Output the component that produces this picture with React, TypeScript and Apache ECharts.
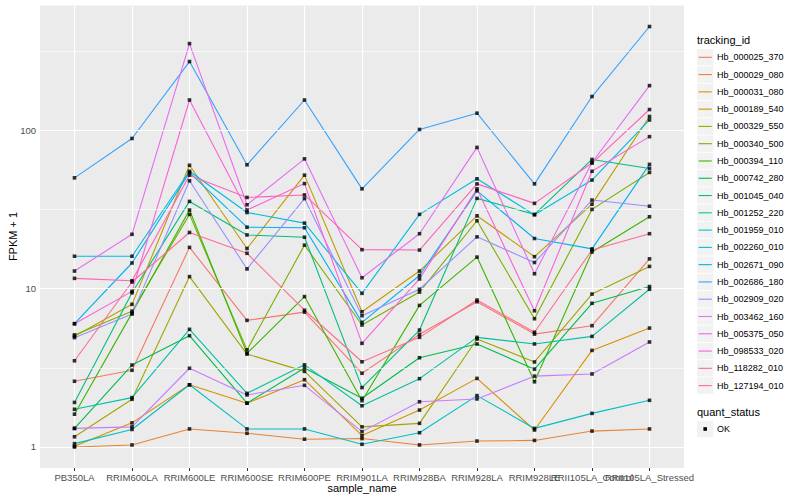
import React, { useEffect, useRef } from "react";
import * as echarts from "echarts";

const FONT = '"Liberation Sans", Arial, Helvetica, sans-serif';

const categories = [
  "PB350LA",
  "RRIM600LA",
  "RRIM600LE",
  "RRIM600SE",
  "RRIM600PE",
  "RRIM901LA",
  "RRIM928BA",
  "RRIM928LA",
  "RRIM928LE",
  "RRII105LA_Control",
  "RRII105LA_Stressed",
];

const trackingIds = [
  "Hb_000025_370",
  "Hb_000029_080",
  "Hb_000031_080",
  "Hb_000189_540",
  "Hb_000329_550",
  "Hb_000340_500",
  "Hb_000394_110",
  "Hb_000742_280",
  "Hb_001045_040",
  "Hb_001252_220",
  "Hb_001959_010",
  "Hb_002260_010",
  "Hb_002671_090",
  "Hb_002686_180",
  "Hb_002909_020",
  "Hb_003462_160",
  "Hb_005375_050",
  "Hb_098533_020",
  "Hb_118282_010",
  "Hb_127194_010",
];

const colors = [
  "#F8766D", "#EA8331", "#D89000", "#C09B00", "#A3A500",
  "#7CAE00", "#39B600", "#00BB4E", "#00BF7D", "#00C1A3",
  "#00BFC4", "#00BAE0", "#00B0F6", "#35A2FF", "#9590FF",
  "#C77CFF", "#E76BF3", "#FA62DB", "#FF62BC", "#FF6C91",
];

// FPKM + 1 values per gene, in category order
const hb000025_370 = [2.6, 3.05, 18.2, 6.3, 7.1, 2.92, 5.14, 8.26, 5.16, 5.83, 15.4];
const hb000029_080 = [1.0, 1.03, 1.3, 1.22, 1.12, 1.13, 1.03, 1.09, 1.1, 1.26, 1.3];
const hb000031_080 = [1.01, 1.42, 2.47, 1.89, 2.66, 1.18, 1.71, 2.71, 1.28, 4.07, 5.63];
const hb000189_540 = [5.0, 7.95, 60, 17.9, 52, 7.14, 12.9, 28.8, 15.9, 34.1, 122];
const hb000329_550 = [1.16, 2.0, 11.9, 3.86, 3.0, 1.34, 1.41, 4.8, 3.44, 9.23, 13.8];
const hb000340_500 = [5.1, 7.2, 29.4, 4.1, 18.8, 5.89, 9.5, 26.8, 6.45, 31.6, 54.1];
const hb000394_110 = [1.61, 7.0, 31.3, 3.9, 8.9, 1.96, 7.83, 15.8, 2.58, 17.0, 28.4];
const hb000742_280 = [1.31, 3.29, 5.04, 1.89, 3.15, 2.03, 3.66, 4.47, 3.1, 8.07, 10.3];
const hb001045_040 = [1.91, 9.4, 35.5, 21.8, 21.1, 2.37, 5.47, 37.1, 29.4, 65.3, 57.3];
const hb001252_220 = [1.73, 2.05, 5.53, 2.18, 3.3, 1.82, 2.7, 4.92, 4.47, 4.99, 9.9];
const hb001959_010 = [1.05, 1.29, 2.47, 1.3, 1.3, 1.04, 1.23, 2.11, 1.31, 1.63, 1.97];
const hb002260_010 = [16, 16, 55, 30.2, 25.9, 9.33, 29.4, 49.3, 29.2, 48.4, 116];
const hb002671_090 = [6.0, 14.5, 54, 24.4, 24.2, 6.12, 12.1, 41.4, 20.7, 17.8, 60.8];
const hb002686_180 = [50, 88.6, 271, 60.4, 155, 42.6, 101, 128, 45.8, 163, 451];
const hb002909_020 = [4.9, 6.9, 47.9, 13.3, 37, 6.74, 9.9, 21.2, 14.6, 36.2, 33.1];
const hb003462_160 = [1.31, 1.34, 3.14, 2.13, 2.45, 1.25, 1.93, 2.01, 2.8, 2.89, 4.6];
const hb005375_050 = [12.9, 22, 352, 33.8, 65.9, 11.7, 22.2, 77.8, 12.4, 62.5, 191];
const hb098533_020 = [6.0, 9.6, 155, 31.3, 46, 4.51, 11.5, 42.6, 7.24, 55, 91];
const hb118282_010 = [11.6, 11.2, 52, 37.6, 39, 17.6, 17.5, 45.8, 34.5, 62, 135];
const hb127194_010 = [3.5, 11.0, 22.6, 16.7, 7.3, 3.45, 4.92, 8.46, 5.3, 17.5, 22.2];

const seriesValues = [
  hb000025_370, hb000029_080, hb000031_080, hb000189_540, hb000329_550,
  hb000340_500, hb000394_110, hb000742_280, hb001045_040, hb001252_220,
  hb001959_010, hb002260_010, hb002671_090, hb002686_180, hb002909_020,
  hb003462_160, hb005375_050, hb098533_020, hb118282_010, hb127194_010,
];

const yTickValues = [1, 10, 100];
const yMinorValues = [Math.sqrt(10), Math.sqrt(1000), Math.sqrt(100000)];
const quantStatus = ["OK"];

export default function App() {
  const ref = useRef<HTMLDivElement>(null);

  useEffect(() => {
    document.body.style.margin = "0";
    if (!ref.current) return;
    const chart = echarts.init(ref.current, undefined, { renderer: "svg" });

    // ggplot-like 5% expansion of the log range
    const allLogs = seriesValues.flat().map((v) => Math.log10(v));
    const lo = Math.min(...allLogs);
    const hi = Math.max(...allLogs);
    const pad = (hi - lo) * 0.05;
    const yMin = lo - pad;
    const yMax = hi + pad;

    const lineSeries = trackingIds.map((id, k) => ({
      name: id,
      type: "line",
      xAxisIndex: 1,
      yAxisIndex: 1,
      data: seriesValues[k].map((v, i) => [i, Math.log10(v)]),
      showSymbol: false,
      symbol: "none",
      silent: true,
      z: 3,
      lineStyle: { color: colors[k], width: 1.1 },
      itemStyle: { color: colors[k] },
    }));

    const pointData: number[][] = [];
    seriesValues.forEach((vals) =>
      vals.forEach((v, i) => pointData.push([i, Math.log10(v)]))
    );

    const pointSeries = {
      name: quantStatus[0],
      type: "scatter",
      xAxisIndex: 1,
      yAxisIndex: 1,
      data: pointData,
      symbol: "rect",
      symbolSize: 3.6,
      silent: true,
      z: 5,
      itemStyle: { color: "#000000" },
    };

    const gridLineSeries = {
      name: "grid",
      type: "line",
      xAxisIndex: 1,
      yAxisIndex: 1,
      data: [],
      silent: true,
      z: 1,
      markLine: {
        silent: true,
        symbol: ["none", "none"],
        label: { show: false },
        animation: false,
        emphasis: { disabled: true },
        data: [
          ...yTickValues.map((v) => ({
            yAxis: Math.log10(v),
            lineStyle: { color: "#ffffff", width: 1.2, type: "solid" },
          })),
          ...yMinorValues.map((v) => ({
            yAxis: Math.log10(v),
            lineStyle: { color: "#ffffff", width: 0.6, type: "solid" },
          })),
        ],
      },
    };

    const yLabel = (v: number) => {
      const p = Math.round(Math.pow(10, v) * 1000) / 1000;
      return yTickValues.indexOf(p) >= 0 ? String(p) : "";
    };

    const legendItems: any[] = [];
    legendItems.push({
      type: "text",
      x: 697,
      y: 40,
      style: { text: "tracking_id", fontSize: 11, fontFamily: FONT, fill: "#000", verticalAlign: "middle" },
    });
    trackingIds.forEach((id, i) => {
      const cy = 57.3 + 17.28 * i;
      legendItems.push({
        type: "rect",
        shape: { x: 697, y: cy - 8.2, width: 16.4, height: 16.4 },
        style: { fill: "#F2F2F2" },
      });
      legendItems.push({
        type: "line",
        shape: { x1: 698.6, y1: cy, x2: 711.8, y2: cy },
        style: { stroke: colors[i], lineWidth: 1.1 },
      });
      legendItems.push({
        type: "text",
        x: 717,
        y: cy,
        style: { text: id, fontSize: 9, fontFamily: FONT, fill: "#000", verticalAlign: "middle" },
      });
    });
    legendItems.push({
      type: "text",
      x: 697,
      y: 412,
      style: { text: "quant_status", fontSize: 11, fontFamily: FONT, fill: "#000", verticalAlign: "middle" },
    });
    quantStatus.forEach((q, i) => {
      const cy = 429 + 17.28 * i;
      legendItems.push({
        type: "rect",
        shape: { x: 697, y: cy - 8.2, width: 16.4, height: 16.4 },
        style: { fill: "#F2F2F2" },
      });
      legendItems.push({
        type: "rect",
        shape: { x: 703.4, y: cy - 1.8, width: 3.6, height: 3.6 },
        style: { fill: "#000" },
      });
      legendItems.push({
        type: "text",
        x: 717,
        y: cy,
        style: { text: q, fontSize: 9, fontFamily: FONT, fill: "#000", verticalAlign: "middle" },
      });
    });

    const tickLogs = yTickValues.map((v) => Math.log10(v));

    const option: any = {
      animation: false,
      backgroundColor: "#ffffff",
      textStyle: { fontFamily: FONT },
      grid: [
        { left: 40, right: 116, top: 5.5, bottom: 32, show: true, backgroundColor: "#EBEBEB", borderWidth: 0 },
        { left: 40, right: 116, top: 5.5, bottom: 32, show: false },
        { left: 74.5, right: 150.5, top: 5.5, bottom: 32, show: false },
      ],
      xAxis: [
        { gridIndex: 0, type: "value", show: false, min: 0, max: 1 },
        { gridIndex: 1, type: "value", show: false, min: -0.6, max: 10.6 },
        {
          gridIndex: 2,
          type: "category",
          data: categories,
          boundaryGap: false,
          axisLine: { show: false },
          axisTick: { show: true, length: 3, interval: 0, lineStyle: { color: "#333333", width: 1 } },
          axisLabel: { interval: 0, color: "#4D4D4D", fontSize: 9.5, margin: 4, fontFamily: FONT },
          splitLine: { show: true, interval: 0, lineStyle: { color: "#ffffff", width: 1.2 } },
        },
      ],
      yAxis: [
        { gridIndex: 0, type: "value", show: false, min: 0, max: 1 },
        {
          gridIndex: 1,
          type: "value",
          min: yMin,
          max: yMax,
          axisLine: { show: false },
          axisTick: { show: true, length: 3, customValues: tickLogs, lineStyle: { color: "#333333", width: 1 } },
          axisLabel: { customValues: tickLogs, formatter: yLabel, color: "#4D4D4D", fontSize: 9.5, margin: 4, fontFamily: FONT },
          splitLine: { show: false },
        },
        { gridIndex: 2, type: "value", show: false, min: 0, max: 1 },
      ],
      series: [gridLineSeries, ...lineSeries, pointSeries],
      graphic: [
        {
          type: "text",
          x: 362,
          y: 488,
          style: { text: "sample_name", fontSize: 11, fontFamily: FONT, fill: "#000", align: "center", verticalAlign: "middle" },
        },
        {
          type: "text",
          x: 13,
          y: 236.5,
          rotation: Math.PI / 2,
          style: { text: "FPKM + 1", fontSize: 11, fontFamily: FONT, fill: "#000", align: "center", verticalAlign: "middle" },
        },
        { type: "group", children: legendItems },
      ],
    };

    chart.setOption(option);
    return () => chart.dispose();
  }, []);

  return <div ref={ref} style={{ width: 800, height: 500 }} />;
}
